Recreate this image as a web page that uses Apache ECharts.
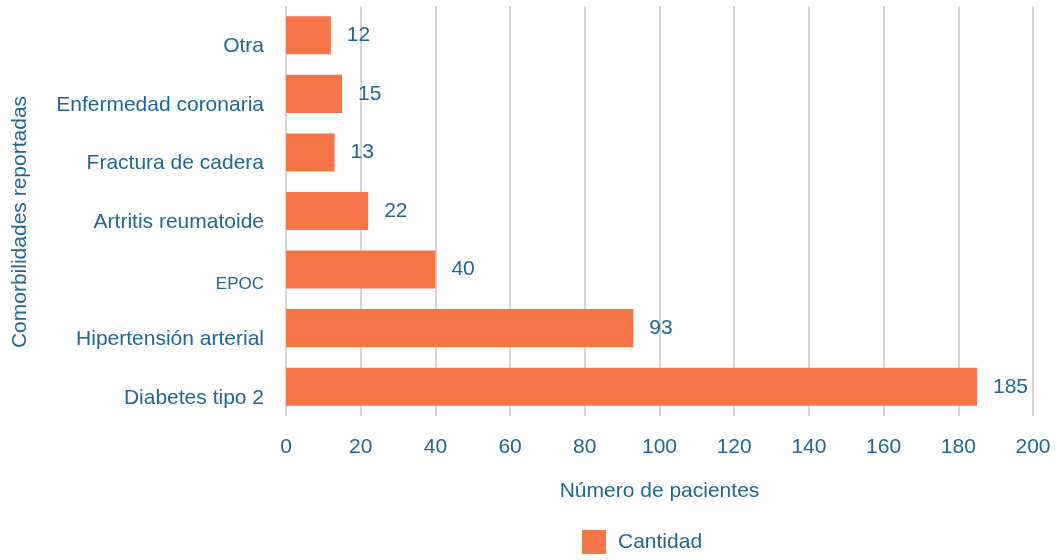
<!DOCTYPE html>
<html>
<head>
<meta charset="utf-8">
<script src="https://cdn.jsdelivr.net/npm/echarts@6/dist/echarts.min.js"></script>
<style>
  html, body { margin: 0; padding: 0; background: #ffffff; }
  #chart { width: 1057px; height: 560px; }
</style>
</head>
<body>
<div id="chart"></div>
<script>
// Comorbidities reported, number of patients per condition
const categories = ['Diabetes tipo 2', 'Hipertensión arterial', 'EPOC', 'Artritis reumatoide', 'Fractura de cadera', 'Enfermedad coronaria', 'Otra'];
const cantidad = [185, 93, 40, 22, 13, 15, 12];
const seriesName = 'Cantidad';
const xAxisName = 'Número de pacientes';
const yAxisName = 'Comorbilidades reportadas';

const textColor = '#1f6696';
const barColor = '#f47548';
const gridColor = '#c8c8c8';
const font = '"Liberation Sans", Arial, sans-serif';

const chart = echarts.init(document.getElementById('chart'), null, { renderer: 'canvas' });
chart.setOption({
  animation: false,
  textStyle: { fontFamily: font },
  grid: { left: 286, right: 24, top: 6, bottom: 144, containLabel: false },
  legend: {
    top: 525,
    left: 577,
    data: [seriesName],
    icon: 'rect',
    itemWidth: 24,
    itemHeight: 24,
    itemGap: 12,
    textStyle: { color: textColor, fontSize: 21, fontFamily: font, padding: [0, 0, 0, 7] }
  },
  xAxis: {
    type: 'value',
    min: 0,
    max: 200,
    interval: 20,
    name: xAxisName,
    nameLocation: 'middle',
    nameGap: 65,
    nameTextStyle: { color: textColor, fontSize: 21, fontFamily: font },
    axisLine: { show: false },
    axisTick: { show: false },
    axisLabel: { color: textColor, fontSize: 21, margin: 21, fontFamily: font },
    splitLine: { show: true, lineStyle: { color: gridColor, width: 1.5 } }
  },
  yAxis: {
    type: 'category',
    data: categories,
    name: yAxisName,
    nameLocation: 'middle',
    nameGap: 255,
    nameRotate: 90,
    nameTextStyle: { color: textColor, fontSize: 21, fontFamily: font, padding: [0, 22, 0, 0] },
    axisLine: { show: false },
    axisTick: { show: false },
    axisLabel: {
      color: textColor,
      margin: 22,
      fontFamily: font,
      formatter: function (v) { return v === 'EPOC' ? '{s|' + v + '}' : '{n|' + v + '}'; },
      rich: {
        n: { fontSize: 21, color: textColor, fontFamily: font, padding: [22, 0, 0, 0] },
        s: { fontSize: 17, color: textColor, fontFamily: font, padding: [30, 0, 0, 0] }
      }
    },
    splitLine: { show: false }
  },
  series: [{
    name: seriesName,
    type: 'bar',
    data: cantidad,
    barCategoryGap: '35%',
    itemStyle: { color: barColor },
    label: {
      show: true,
      position: 'right',
      distance: 16,
      color: textColor,
      fontSize: 21,
      fontFamily: font
    }
  }]
});
</script>
</body>
</html>
